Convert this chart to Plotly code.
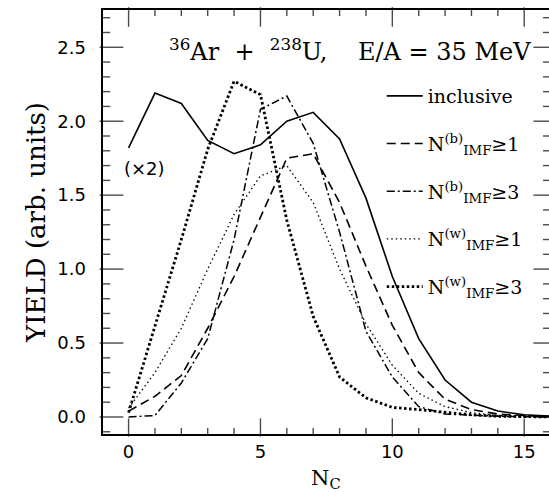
import numpy as np
import plotly.graph_objects as go

# ---- data ----
nc = list(range(0, 17))
inclusive = [1.82, 2.19, 2.12, 1.87, 1.78, 1.84, 2.00, 2.06, 1.88, 1.48, 0.95, 0.53, 0.25, 0.10, 0.04, 0.015, 0.005]
nb1 = [0.04, 0.14, 0.28, 0.60, 0.95, 1.35, 1.75, 1.78, 1.45, 1.02, 0.62, 0.30, 0.12, 0.05, 0.02, 0.01, 0.003]
nb3 = [0.00, 0.01, 0.23, 0.53, 1.20, 2.08, 2.17, 1.85, 1.25, 0.58, 0.27, 0.07, 0.02, 0.01, 0.005, 0.002, 0.0]
nw1 = [0.06, 0.30, 0.60, 1.00, 1.37, 1.63, 1.70, 1.45, 1.00, 0.63, 0.35, 0.16, 0.07, 0.03, 0.01, 0.005, 0.0]
nw3 = [0.03, 0.62, 1.20, 1.81, 2.27, 2.18, 1.33, 0.68, 0.27, 0.13, 0.065, 0.05, 0.03, 0.015, 0.005, 0.002, 0.0]

x_range = [-0.97, 15.94]
y_range = [-0.115, 2.752]
x_major, x_minor = 5, 1
y_major, y_minor = 0.5, 0.1

names = ["inclusive",
         "N<sup>(b)</sup><sub>IMF</sub>≥1",
         "N<sup>(b)</sup><sub>IMF</sub>≥3",
         "N<sup>(w)</sup><sub>IMF</sub>≥1",
         "N<sup>(w)</sup><sub>IMF</sub>≥3"]
series = [inclusive, nb1, nb3, nw1, nw3]
styles = [dict(width=1.6, dash="solid"),
          dict(width=1.6, dash="9px,5px"),
          dict(width=1.5, dash="8px,3px,2px,3px"),
          dict(width=1.3, dash="1.5px,3px"),
          dict(width=2.8, dash="2.5px,2.5px")]

W, H = 549, 493
M = dict(l=103, r=0, t=10, b=59)
PW, PH = W - M["l"] - M["r"], H - M["t"] - M["b"]
xu = (x_range[1] - x_range[0]) / PW   # data units per pixel
yu = (y_range[1] - y_range[0]) / PH

fig = go.Figure()


def tick_vals(lo, hi, step):
    k0 = np.ceil(lo / step - 1e-9)
    k1 = np.floor(hi / step + 1e-9)
    return [float(round(k * step, 6)) for k in np.arange(k0, k1 + 1)]


# inside tick marks on all four sides, drawn as line-shaped markers
vx, vy, vs = [], [], []          # vertical ticks (bottom / top)
for v in tick_vals(x_range[0], x_range[1], x_minor):
    major = abs(v / x_major - round(v / x_major)) < 1e-6
    lb = 13 if major else 5
    lt = 14 if major else 5
    vx += [v, v]
    vy += [y_range[0] + lb / 2 * yu, y_range[1] - lt / 2 * yu]
    vs += [lb, lt]
hx, hy, hs = [], [], []          # horizontal ticks (left / right)
for v in tick_vals(y_range[0], y_range[1], y_minor):
    major = abs(v / y_major - round(v / y_major)) < 1e-6
    ll = 17 if major else 6
    lr = 13 if major else 5
    hx += [x_range[0] + ll / 2 * xu, x_range[1] - lr / 2 * xu]
    hy += [v, v]
    hs += [ll, lr]

fig.add_trace(go.Scatter(x=vx, y=vy, mode="markers", showlegend=False, hoverinfo="skip",
                         cliponaxis=False,
                         marker=dict(symbol="line-ns", size=vs, color="black",
                                     line=dict(color="black", width=1.4))))
fig.add_trace(go.Scatter(x=hx, y=hy, mode="markers", showlegend=False, hoverinfo="skip",
                         cliponaxis=False,
                         marker=dict(symbol="line-ew", size=hs, color="black",
                                     line=dict(color="black", width=1.4))))

for i, (nm, ys, st) in enumerate(zip(names, series, styles)):
    fig.add_trace(go.Scatter(x=nc, y=ys, mode="lines", name=nm,
                             legendgroup=f"g{i}",
                             line=dict(color="black", **st)))

tickfont = dict(family="DejaVu Sans", size=18, color="black")

fig.update_layout(
    template="none",
    xaxis=dict(range=x_range, tickmode="linear", tick0=0, dtick=x_major, ticks="",
               showline=True, linecolor="black", linewidth=2, mirror=True,
               showgrid=False, zeroline=False, tickfont=tickfont),
    yaxis=dict(range=y_range, tickmode="linear", tick0=0, dtick=y_major, tickformat=".1f", ticks="",
               showline=True, linecolor="black", linewidth=2, mirror=True,
               showgrid=False, zeroline=False, tickfont=tickfont, ticksuffix="  ",
               title=dict(text="YIELD (arb. units)", font=dict(family="DejaVu Serif", size=26, color="black"),
                          standoff=4)),
)

fig.add_annotation(x=0.5, y=-0.105, xref="paper", yref="paper", yanchor="middle",
                   text="N<sub>C</sub>", showarrow=False,
                   font=dict(family="DejaVu Serif", size=21, color="black"))
fig.add_annotation(x=0.553, y=2.48, xref="paper", yref="y",
                   text="<sup>36</sup>Ar  +  <sup>238</sup>U,    E/A = 35 MeV",
                   showarrow=False, font=dict(family="DejaVu Serif", size=24, color="black"))
fig.add_annotation(x=0.6, y=1.68, xref="x", yref="y", text="(×2)", showarrow=False,
                   font=dict(family="DejaVu Sans", size=18, color="black"))

fig.update_layout(width=W, height=H, margin=M,
                  paper_bgcolor="white", plot_bgcolor="white", showlegend=True,
                  legend=dict(x=0.625, y=0.842, xanchor="left", yanchor="top",
                              bgcolor="rgba(0,0,0,0)", tracegroupgap=20, itemwidth=36,
                              font=dict(family="DejaVu Serif", size=19, color="black")))

fig.write_html("out.html", config={"displayModeBar": False},
               post_script="document.body.style.margin='0';document.body.style.padding='0';")
